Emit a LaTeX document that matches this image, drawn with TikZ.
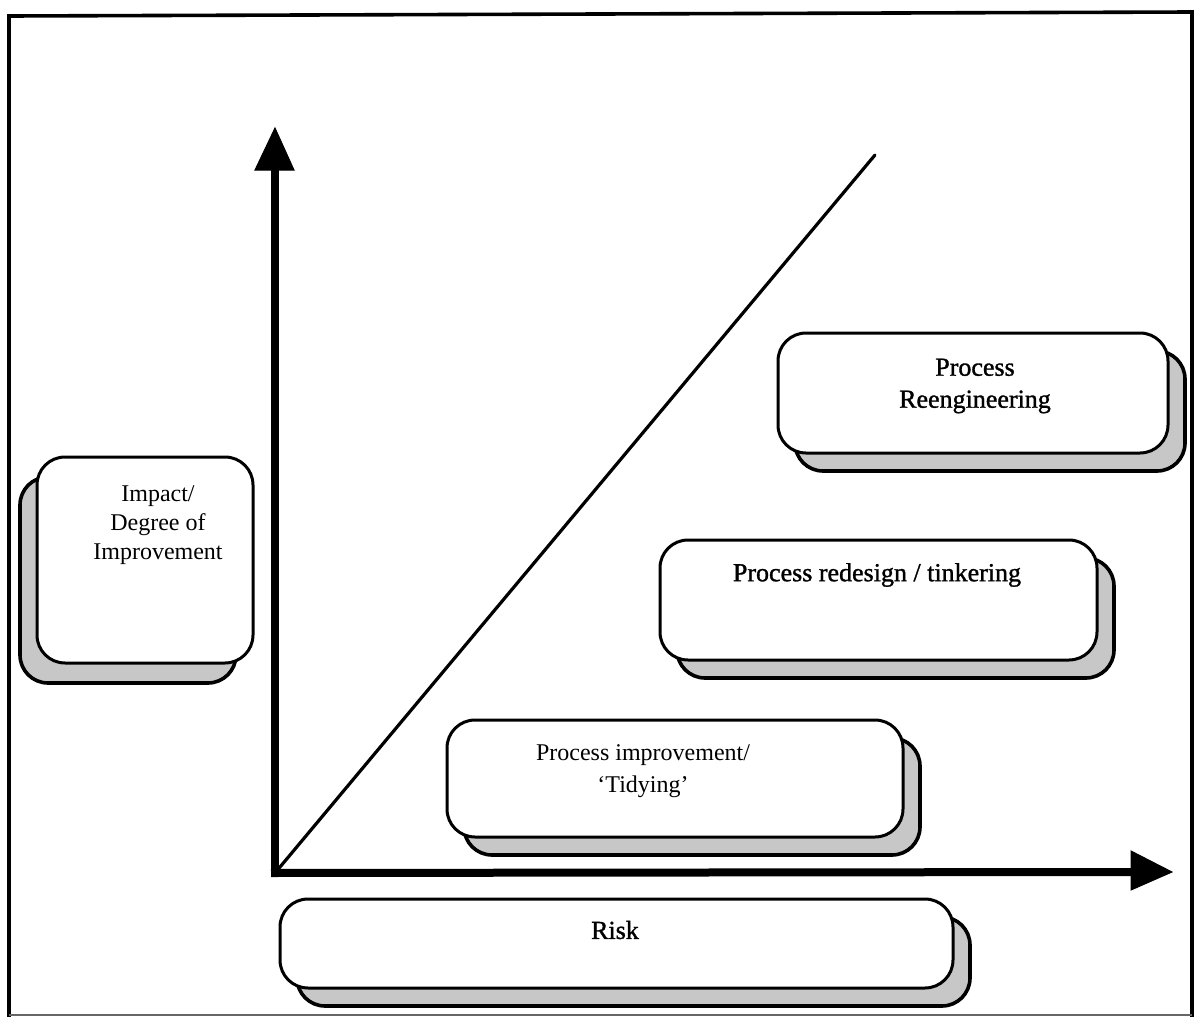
\documentclass[tikz,border=0pt]{standalone}
\usepackage{fontspec}
\setmainfont{Liberation Serif}
\newfontfamily\heavyserif[FakeBold=1.2]{Liberation Serif}
\usetikzlibrary{shadows}
\begin{document}
\begin{tikzpicture}[x=0.5pt,y=-0.5pt,
  panel/.style={draw=black, line width=1.5pt, fill=white, rounded corners=14pt,
    inner sep=0pt},
  shadeR/.style={drop shadow={shadow xshift=8.5pt, shadow yshift=-9pt,
    fill=black!22, draw=black, line width=1.8pt, opacity=1}},
  shadeL/.style={drop shadow={shadow xshift=-8.5pt, shadow yshift=-10pt,
    fill=black!22, draw=black, line width=1.8pt, opacity=1}},
  lbl/.style={font=\fontsize{13}{16}\selectfont, align=center, inner sep=0pt},
  lblheavy/.style={font=\heavyserif\fontsize{13}{16}\selectfont, align=center, inner sep=0pt},
  axis/.style={line width=4pt},
  tip/.style={fill=black, draw=black, line width=0.5pt, line join=miter}]
\useasboundingbox (0,0) rectangle (1195,1017);

% outer frame
\draw[line width=1.8pt] (9,1017) -- (9,16) -- (1192,12) -- (1192,1017);
\draw[line width=1pt, black!60] (9,1015) -- (1192,1015);

% axes
\coordinate (O) at (275,873);
\coordinate (ytip) at (275,128);
\coordinate (xtip) at (1172,872);
\draw[axis] (275,877) -- (275,168);
\draw[axis] (271,873) -- (1133,872);
\fill[tip] (ytip) -- (294,170) -- (255,170) -- cycle;
\fill[tip] (xtip) -- (1131,890) -- (1131,851) -- cycle;

% diagonal trend line
\coordinate (dtop) at (875,155);
\draw[line width=1.6pt, line cap=round] (O) -- (dtop);

% boxes
\node[panel, shadeR, minimum width=195pt, minimum height=60pt] (reeng) at (973,393) {};
\node[panel, shadeR, minimum width=218.5pt, minimum height=60pt] (redes) at (878.5,600) {};
\node[panel, shadeR, minimum width=228pt, minimum height=58.5pt] (impr) at (675,778.5) {};
\node[panel, shadeR, minimum width=336.5pt, minimum height=44.5pt] (risk) at (616.5,943.5) {};
\node[panel, shadeL, minimum width=108pt, minimum height=103pt] (impact) at (145,560) {};

% labels
\node[lblheavy] (reengT) at (975,386) {Process\\Reengineering};
\node[lblheavy] (redesT) at (877,575) {Process redesign / tinkering};
\node[lbl, font=\fontsize{12}{16}\selectfont] (imprT) at (643,771) {Process improvement/\\`Tidying'};
\node[lblheavy] (riskT) at (615,930) {Risk};
\node[lbl, font=\fontsize{12}{14.5}\selectfont] (impactT) at (158,525) {Impact/\\Degree of\\Improvement};
\end{tikzpicture}
\end{document}
